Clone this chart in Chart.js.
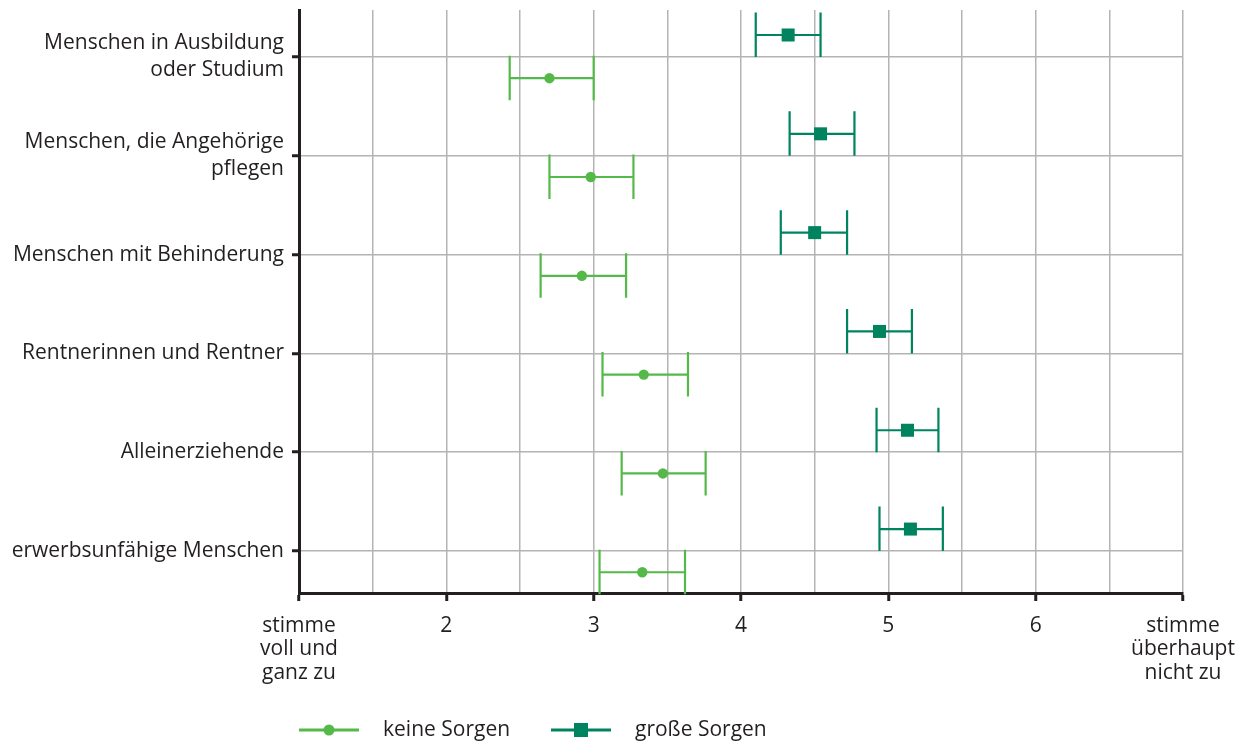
<!DOCTYPE html>
<html>
<head>
<meta charset="utf-8">
<script src="https://cdn.jsdelivr.net/npm/chart.js@4"></script>
<style>
    body { margin: 0; background: #fff; }
    #wrap { position: relative; width: 1251px; height: 742px; }
    #legend { position: absolute; left: 299px; top: 714px; font: 21px "Open Sans"; color: #231f20; }
    .item { position: absolute; top: 0; white-space: nowrap; }
    .item canvas { position: absolute; top: 8px; left: 0; }
    .item span { position: absolute; left: 84px; top: 0; }
</style>
</head>
<body>
<div id="wrap">
    <canvas id="myChart" width="1251" height="742"></canvas>
    <div id="legend"></div>
</div>
<script>
// Daten
var categories = [
    ['Menschen in Ausbildung', 'oder Studium'],
    ['Menschen, die Angehörige', 'pflegen'],
    'Menschen mit Behinderung',
    'Rentnerinnen und Rentner',
    'Alleinerziehende',
    'erwerbsunfähige Menschen'
];
var keineMean = [2.70, 2.98, 2.92, 3.34, 3.47, 3.33];
var keineLow  = [2.43, 2.70, 2.64, 3.06, 3.19, 3.04];
var keineHigh = [3.00, 3.27, 3.22, 3.64, 3.76, 3.62];
var grosseMean = [4.32, 4.54, 4.50, 4.94, 5.13, 5.15];
var grosseLow  = [4.10, 4.33, 4.27, 4.72, 4.92, 4.94];
var grosseHigh = [4.54, 4.77, 4.72, 5.16, 5.34, 5.37];
var xTickLabels = {
    1: ['stimme', 'voll und', 'ganz zu'],
    2: '2', 3: '3', 4: '4', 5: '5', 6: '6',
    7: ['stimme', 'überhaupt', 'nicht zu']
};

var lightGreen = '#55b94a';
var darkGreen = '#00835f';
var axisColor = '#231f20';
var gridColor = '#b4b4b4';
var FONT = '"Open Sans"';

function points(values, shift) {
    return values.map(function (v, i) {
        return { x: v, y: i + shift };
    });
}

// Fehlerbalken über die Skalen zeichnen
var errorBars = {
    id: 'errorBars',
    beforeDatasetsDraw: function (chart) {
        var ctx = chart.ctx;
        var xs = chart.scales.x;
        chart.data.datasets.forEach(function (ds, di) {
            var meta = chart.getDatasetMeta(di);
            ctx.save();
            ctx.strokeStyle = ds.borderColor;
            ctx.lineWidth = 2.2;
            meta.data.forEach(function (pt, i) {
                var x1 = xs.getPixelForValue(ds.low[i]);
                var x2 = xs.getPixelForValue(ds.high[i]);
                var y = pt.y;
                ctx.beginPath();
                ctx.moveTo(x1, y); ctx.lineTo(x2, y);
                ctx.moveTo(x1, y - 22.5); ctx.lineTo(x1, y + 22);
                ctx.moveTo(x2, y - 22.5); ctx.lineTo(x2, y + 22);
                ctx.stroke();
            });
            ctx.restore();
        });
    }
};

var ctx = document.getElementById('myChart').getContext('2d');

var chart = new Chart(ctx, {
    type: 'scatter',
    data: {
        datasets: [{
            label: 'keine Sorgen',
            data: points(keineMean, 0.215),
            low: keineLow,
            high: keineHigh,
            backgroundColor: lightGreen,
            borderColor: lightGreen,
            pointStyle: 'circle',
            pointRadius: 5.2,
            pointBorderWidth: 0
        },
        {
            label: 'große Sorgen',
            data: points(grosseMean, -0.222),
            low: grosseLow,
            high: grosseHigh,
            backgroundColor: darkGreen,
            borderColor: darkGreen,
            pointStyle: 'rect',
            pointRadius: 9.2,
            pointBorderWidth: 0
        }]
    },
    options: {
        responsive: false,
        animation: false,
        layout: { padding: { left: 0, right: 68, top: 10, bottom: 0 } },
        plugins: {
            legend: { display: false },
            tooltip: { enabled: false }
        },
        scales: {
            x: {
                type: 'linear',
                min: 1,
                max: 7,
                afterFit: function (scale) {
                    scale.height = 149;
                    scale.paddingLeft = 0;
                    scale.paddingRight = 0;
                },
                ticks: {
                    stepSize: 0.5,
                    autoSkip: false,
                    maxRotation: 0,
                    padding: 13,
                    color: axisColor,
                    font: { family: FONT, size: 21, lineHeight: 1.12 },
                    callback: function (v) {
                        return xTickLabels[v] || '';
                    }
                },
                grid: {
                    color: gridColor,
                    lineWidth: 1.5,
                    tickLength: 8,
                    tickWidth: 3,
                    tickColor: function (c) {
                        return Number.isInteger(c.tick.value) ? axisColor : 'rgba(0,0,0,0)';
                    }
                },
                border: { color: axisColor, width: 3 }
            },
            y: {
                type: 'linear',
                reverse: true,
                min: -0.475,
                max: 5.425,
                afterBuildTicks: function (scale) {
                    scale.ticks = categories.map(function (c, i) {
                        return { value: i };
                    });
                },
                afterFit: function (scale) {
                    scale.width = 299;
                    scale.paddingTop = 0;
                    scale.paddingBottom = 0;
                },
                ticks: {
                    padding: 8,
                    color: axisColor,
                    font: { family: FONT, size: 21, lineHeight: 1.28 },
                    callback: function (v) {
                        return categories[v];
                    }
                },
                grid: {
                    color: gridColor,
                    lineWidth: 1.5,
                    tickLength: 7,
                    tickWidth: 3,
                    tickColor: axisColor
                },
                border: { color: axisColor, width: 3 }
            }
        }
    },
    plugins: [errorBars]
});

// Legende mit Linie und Marker
var legend = document.getElementById('legend');
var legendLeft = [0, 252];
chart.data.datasets.forEach(function (ds, i) {
    var item = document.createElement('div');
    item.className = 'item';
    item.style.left = legendLeft[i] + 'px';
    var c = document.createElement('canvas');
    c.width = 60; c.height = 16;
    var g = c.getContext('2d');
    g.strokeStyle = ds.borderColor;
    g.fillStyle = ds.backgroundColor;
    g.lineWidth = 3;
    g.beginPath(); g.moveTo(0, 8); g.lineTo(60, 8); g.stroke();
    if (ds.pointStyle === 'rect') {
        g.fillRect(23, 1, 14, 14);
    } else {
        g.beginPath(); g.arc(30, 8, 5.5, 0, Math.PI * 2); g.fill();
    }
    var s = document.createElement('span');
    s.textContent = ds.label;
    item.appendChild(c);
    item.appendChild(s);
    legend.appendChild(item);
});
</script>
</body>
</html>
